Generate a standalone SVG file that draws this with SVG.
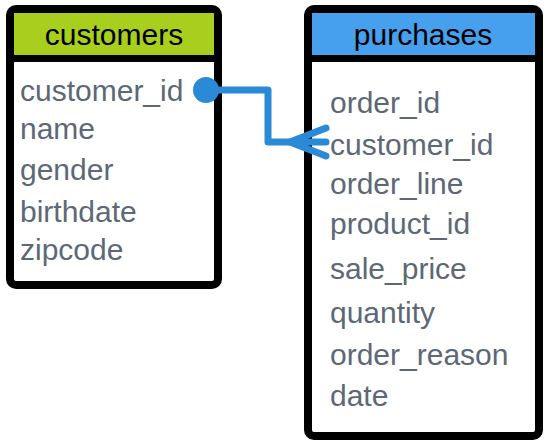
<svg xmlns="http://www.w3.org/2000/svg" width="549" height="447" viewBox="0 0 549 447">
<style>
.frame{fill:#fff;stroke:#000;stroke-width:8}
.title{font-family:"Liberation Sans",Arial,sans-serif;font-size:30px;fill:#000;text-anchor:middle}
.field{font-family:"Liberation Sans",Arial,sans-serif;font-size:30px;fill:#5d6876}
.conn{fill:none;stroke:#2a8ad6;stroke-width:7;stroke-linecap:round;stroke-linejoin:round}
</style>
<rect width="549" height="447" fill="#fff"/>
<g id="customers">
<rect class="frame" x="10" y="9" width="208" height="276" rx="6"/>
<rect x="14" y="13" width="200" height="42" fill="#a8cf1e"/>
<rect x="14" y="55" width="200" height="7" fill="#000"/>
<text class="title" x="114" y="45">customers</text>
<text class="field" x="20" y="101">customer_id</text>
<text class="field" x="20" y="139">name</text>
<text class="field" x="20" y="180">gender</text>
<text class="field" x="20" y="222">birthdate</text>
<text class="field" x="20" y="260">zipcode</text>
</g>
<g id="purchases">
<rect class="frame" x="308" y="9" width="231" height="427" rx="6"/>
<rect x="312" y="13" width="223" height="42" fill="#46a0ee"/>
<rect x="312" y="55" width="223" height="7" fill="#000"/>
<text class="title" x="423" y="45">purchases</text>
<text class="field" x="330" y="113">order_id</text>
<text class="field" x="330" y="155">customer_id</text>
<text class="field" x="330" y="194">order_line</text>
<text class="field" x="330" y="234">product_id</text>
<text class="field" x="330" y="279">sale_price</text>
<text class="field" x="330" y="323">quantity</text>
<text class="field" x="330" y="365">order_reason</text>
<text class="field" x="330" y="406">date</text>
</g>
<g id="connectors">
<circle cx="206" cy="90" r="13" fill="#2a8ad6"/>
<path class="conn" d="M206 90 H268 V142 H326"/>
<path class="conn" d="M290 142 L326 128 M290 142 L326 156"/>
</g>
</svg>
